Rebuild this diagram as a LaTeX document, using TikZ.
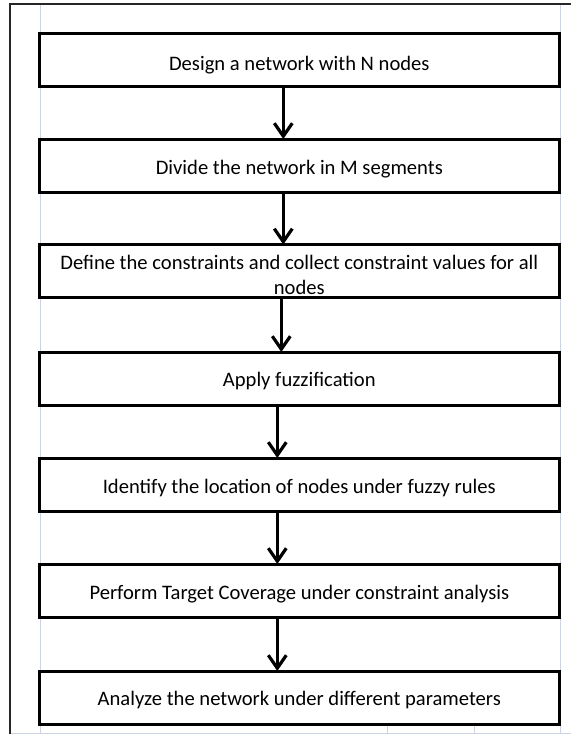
\documentclass[tikz,border=0pt]{standalone}
\usepackage{fontspec}
\setmainfont{Carlito}
\usetikzlibrary{arrows.meta}
\definecolor{gridgray}{RGB}{204,212,228}
\begin{document}
\begin{tikzpicture}[x=1pt,y=-1pt,
  stepbox/.style={draw=black, line width=3pt, fill=white, minimum width=520pt,
    minimum height=53pt, inner sep=0pt, outer sep=0pt},
  lbl/.style={font=\fontsize{20.6pt}{25.5pt}\selectfont, inner sep=0pt, align=center},
  lblone/.style={lbl, text height=13.2pt, text depth=0pt},
  flow/.style={line width=3.2pt, -{Straight Barb[length=13pt,width=18pt]}},
  gridline/.style={draw=gridgray, line width=1pt},
  frameline/.style={draw=black!85, line width=2pt}]
\useasboundingbox (0,0) rectangle (571,734);
\fill[white] (0,0) rectangle (571,734);
% spreadsheet grid
\draw[gridline] (40,4) -- (40,734);
\draw[gridline] (560,4) -- (560,734);
\draw[gridline] (10,733) -- (571,733);
\draw[gridline] (387,724) -- (387,734);
\draw[gridline] (474,724) -- (474,734);
% outer frame
\draw[frameline] (10,734) -- (10,4) -- (571,4);
% boxes
\node[stepbox] (b1) at (299.3,59.5) {};
\node[stepbox] (b2) at (299.3,165.5) {};
\node[stepbox] (b3) at (299.3,271) {};
\node[stepbox] (b4) at (299.3,378.5) {};
\node[stepbox] (b5) at (299.3,484.5) {};
\node[stepbox] (b6) at (299.3,590.5) {};
\node[stepbox] (b7) at (299.3,697.5) {};
% texts
\node[lblone] (t1) at ([yshift=-4pt]b1.center) {Design a network with N nodes};
\node[lblone] (t2) at ([yshift=-2pt]b2.center) {Divide the network in M segments};
\node[lbl] (t3) at ([yshift=-4pt]b3.center) {Define the constraints and collect constraint values for all\\nodes};
\node[lblone] (t4) at ([yshift=-1pt]b4.center) {Apply fuzzification};
\node[lblone] (t5) at ([yshift=-2pt]b5.center) {Identify the location of nodes under fuzzy rules};
\node[lblone] (t6) at ([yshift=-2pt]b6.center) {Perform Target Coverage under constraint analysis};
\node[lblone] (t7) at ([yshift=-1pt]b7.center) {Analyze the network under different parameters};
% arrows
\draw[flow] ([xshift=-16pt]b1.south) -- ([xshift=-16pt]b2.north);
\draw[flow] ([xshift=-16pt]b2.south) -- ([xshift=-16pt]b3.north);
\draw[flow] ([xshift=-18pt]b3.south) -- ([xshift=-18pt]b4.north);
\draw[flow] ([xshift=-22pt]b4.south) -- ([xshift=-22pt]b5.north);
\draw[flow] ([xshift=-22pt]b5.south) -- ([xshift=-22pt]b6.north);
\draw[flow] ([xshift=-22pt]b6.south) -- ([xshift=-22pt]b7.north);
\end{tikzpicture}
\end{document}
